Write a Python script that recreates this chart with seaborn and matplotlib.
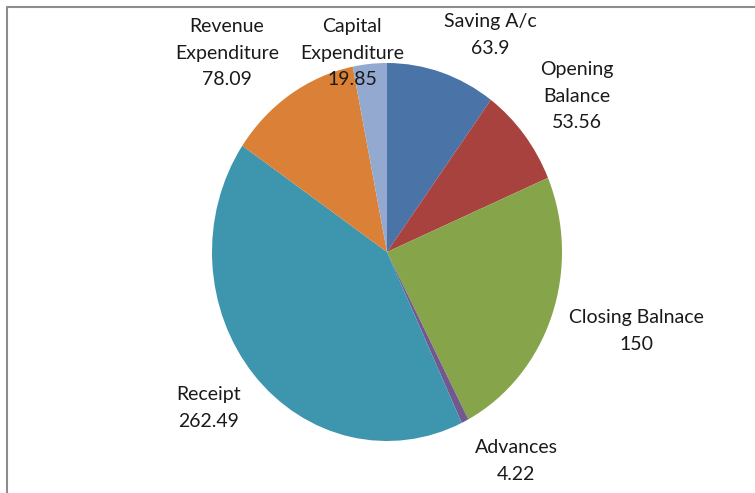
import matplotlib.pyplot as plt
import seaborn as sns

# Data
categories = ['Saving A/c', 'Opening\nBalance', 'Closing Balnace', 'Advances',
              'Receipt', 'Revenue\nExpenditure', 'Capital\nExpenditure']
values = [63.9, 53.56, 150, 4.22, 262.49, 78.09, 19.85]
value_labels = ['63.9', '53.56', '150', '4.22', '262.49', '78.09', '19.85']

colors = ['#4A73A8', '#A8423F', '#86A44A', '#71588F', '#3D96AE', '#DA8137', '#93A9CF']

sns.set_style('white')
plt.rcParams['font.family'] = ['Lato', 'DejaVu Sans']

W, H = 755, 493
fig = plt.figure(figsize=(W / 100, H / 100), dpi=100)

# frame of the chart area (runs off the right and bottom edges)
frame_ax = fig.add_axes([0, 0, 1, 1])
frame_ax.set_xlim(0, W)
frame_ax.set_ylim(H, 0)
frame_ax.axis('off')
frame_ax.plot([7, 7, W + 5], [H + 5, 7, 7], color='#8C8C8C', lw=1.5)

# pie is slightly squashed horizontally in the reference (rx ~175px, ry ~189px)
cx, cy, rx, ry = 387, 252, 175, 189
ax = fig.add_axes([0, 0, 1, 1])
ax.pie(values, colors=colors, startangle=90, counterclock=False,
       radius=1, wedgeprops={'linewidth': 0})
ax.set_aspect('auto')
ax.set_xlim(-cx / rx, (W - cx) / rx)
ax.set_ylim(-(H - cy) / ry, cy / ry)
ax.axis('off')

# label centres in pixels (excel "best fit" placement)
label_pos = [(490, 35), (577, 96), (636, 331), (516, 461),
             (209, 408), (227, 53), (352, 53)]

for name, val, (px, py) in zip(categories, value_labels, label_pos):
    fig.text(px / W, 1 - py / H, name + '\n' + val, ha='center', va='center',
             fontsize=14, linespacing=1.7, color='#1A1A1A')

fig.savefig('out.png', dpi=100)
